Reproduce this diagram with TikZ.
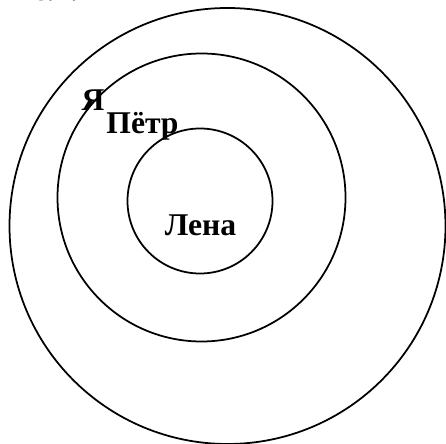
\documentclass[tikz,border=0pt]{standalone}
\usepackage{fontspec}
\setmainfont{Liberation Serif}
\tikzset{
  ring/.style={line width=1pt},
  name label/.style={font=\fontsize{18}{20}\selectfont\bfseries, inner sep=0pt, anchor=base}
}
\begin{document}
\begin{tikzpicture}
\useasboundingbox (0, 0) rectangle (8.92, 8.86);
% caption, cut by the page edge
\node[name label, anchor=base east] (caption) at (1.57, 8.84) {Рис.1.};

% circles
\draw[ring] (4.55, 4.34) circle (4.36);
\draw[ring] (4.03, 4.91) circle (2.88);
\draw[ring] (4.00, 4.84) circle (1.45);

% names
\node[name label] (me) at (1.86, 6.65) {Я};
\node[name label] (petr) at (2.85, 6.18) {Пётр};
\node[name label] (lena) at (4.01, 4.14) {Лена};
\end{tikzpicture}
\end{document}
